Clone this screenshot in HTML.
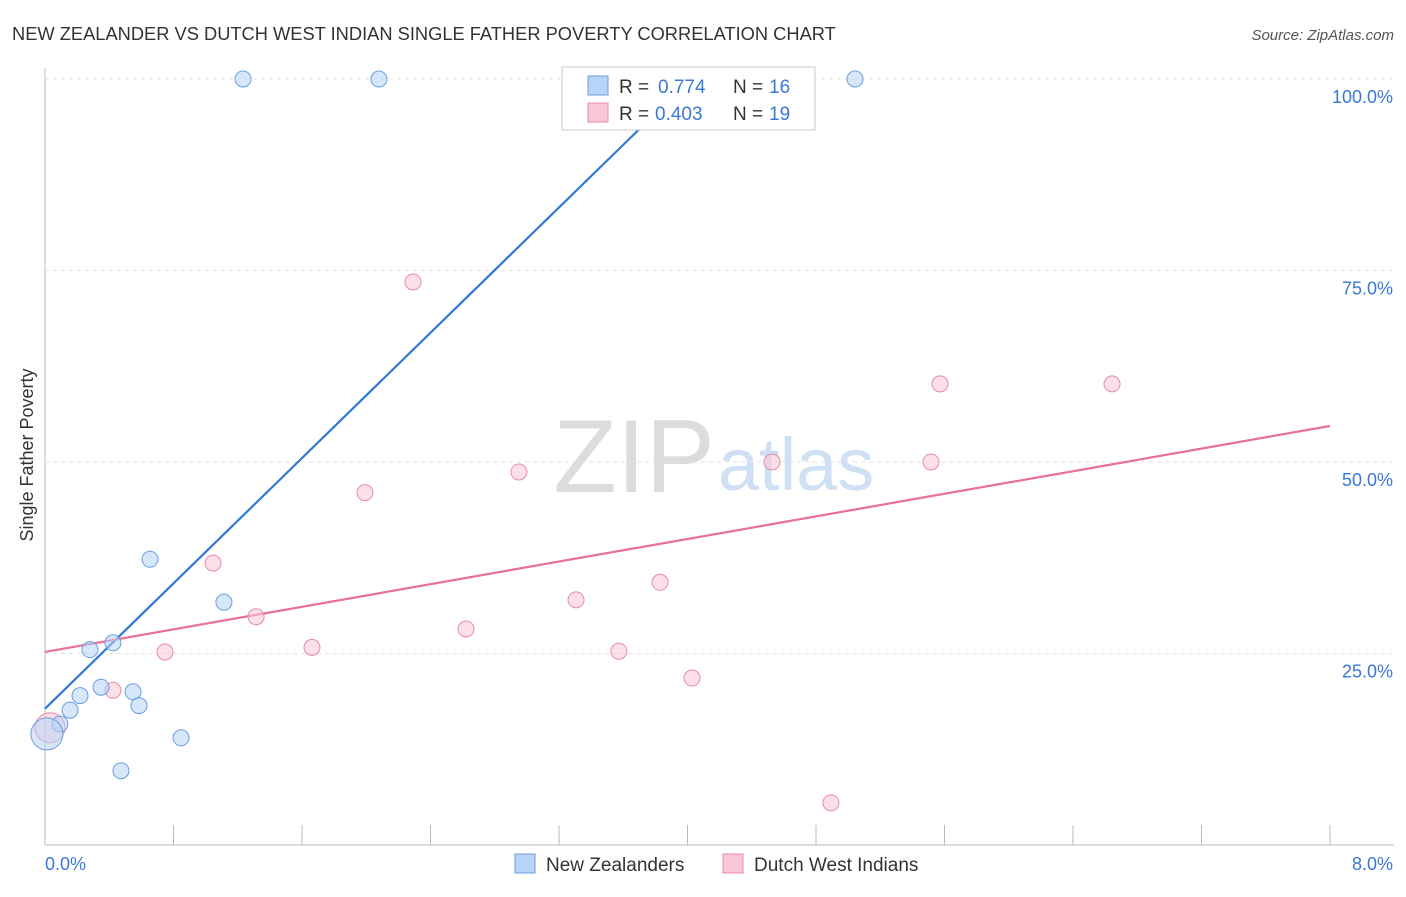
<!DOCTYPE html>
<html><head><meta charset="utf-8"><style>
body{margin:0;background:#fff;font-family:"Liberation Sans",sans-serif;}
svg text{font-family:"Liberation Sans",sans-serif;}
</style></head><body>
<svg id="c" width="1406" height="892">
<text x="12" y="40" font-size="18.3" fill="#333">NEW ZEALANDER VS DUTCH WEST INDIAN SINGLE FATHER POVERTY CORRELATION CHART</text>
<text x="1394" y="40" font-size="15" fill="#555" text-anchor="end" font-style="italic">Source: ZipAtlas.com</text>
<text x="33" y="455" font-size="18" fill="#333" text-anchor="middle" transform="rotate(-90 33 455)">Single Father Poverty</text>
<text x="715" y="492" font-size="104" fill="#dcdcdc" text-anchor="end" font-family="Liberation Serif">ZIP</text>
<text x="718" y="490" font-size="74" fill="#cfe0f5">atlas</text>
<g id="grid"></g><g id="lines"></g><g id="pts"></g>
<g>
<rect x="562" y="67" width="253" height="63" fill="#fff" stroke="#ccc"/>
<rect x="588" y="76" width="20" height="19" fill="#b7d3f5" stroke="#6a9ee0"/>
<rect x="588" y="103" width="20" height="19" fill="#f9c6d6" stroke="#e98aaa"/>
<text x="619" y="93" font-size="19" fill="#333">R =</text>
<text x="658" y="93" font-size="19" fill="#3a78d8">0.774</text>
<text x="733" y="93" font-size="19" fill="#333">N =</text>
<text x="769" y="93" font-size="19" fill="#3a78d8">16</text>
<text x="619" y="120" font-size="19" fill="#333">R =</text>
<text x="655" y="120" font-size="19" fill="#3a78d8">0.403</text>
<text x="733" y="120" font-size="19" fill="#333">N =</text>
<text x="769" y="120" font-size="19" fill="#3a78d8">19</text>
</g>
<g>
<rect x="515" y="854" width="20" height="19" fill="#b7d3f5" stroke="#6a9ee0"/>
<text x="546" y="871" font-size="19" fill="#333">New Zealanders</text>
<rect x="723" y="854" width="20" height="19" fill="#f9c6d6" stroke="#e98aaa"/>
<text x="754" y="871" font-size="19" fill="#333">Dutch West Indians</text>
</g>
</svg>
<script>
const blueX=[1.233,2.079,5.043,0.654,1.114,0.423,0.280,0.349,0.548,0.218,0.156,0.585,0.093,0.847,0.473,0.012];
const blueY=[100,100,100,37.3,31.7,26.4,25.5,20.6,20.0,19.5,17.6,18.2,15.8,14.0,9.7,14.5];
const pinkX=[2.291,1.992,2.951,1.046,1.314,1.662,0.747,0.423,2.621,3.306,3.573,3.829,4.028,4.526,4.893,5.572,5.516,6.643,0.031];
const pinkY=[73.5,46.0,48.7,36.8,29.8,25.8,25.2,20.2,28.2,32.0,25.3,34.3,21.8,50.0,5.5,60.2,50.0,60.2,15.3];
const yTicks=[25,50,75,100];
const blueLine=[[0,17.8],[4.02,100]];
const pinkLine=[[0,25.2],[8,54.7]];
const X=v=>45+v/8*1285, Y=v=>845-v/100*766;
const NS="http://www.w3.org/2000/svg";
function mk(p,t,a){const e=document.createElementNS(NS,t);for(const k in a)e.setAttribute(k,a[k]);document.getElementById(p).appendChild(e);return e;}
let ax=mk('grid','line',{x1:45,y1:68,x2:45,y2:845,stroke:'#bbb'});


let bx=mk('grid','line',{x1:45,y1:845,x2:1394,y2:845,stroke:'#bbb'});


for(let i=1;i<=10;i++){const t=mk('grid','line',{x1:X(i*0.8),y1:825,x2:X(i*0.8),y2:845,stroke:'#bbb'});

}
yTicks.forEach(v=>{const l=mk('grid','line',{x1:45,y1:Y(v),x2:1394,y2:Y(v),stroke:'#e2e2e2','stroke-dasharray':'4 4'});


const t=mk('grid','text',{x:1393,y:Y(v)+24,'font-size':18,fill:'#3a78d8','text-anchor':'end'});t.textContent=v.toFixed(1)+'%';

});
[['0.0%',45,'start'],['8.0%',1393,'end']].forEach(([s,x,a])=>{const t=mk('grid','text',{x:x,y:870,'font-size':18,fill:'#3a78d8','text-anchor':a});t.textContent=s;

});
const bl=mk('lines','line',{x1:X(blueLine[0][0]),y1:Y(blueLine[0][1]),x2:X(blueLine[1][0]),y2:Y(blueLine[1][1]),stroke:'#2f78d8','stroke-width':2.2});


const pl=mk('lines','line',{x1:X(pinkLine[0][0]),y1:Y(pinkLine[0][1]),x2:X(pinkLine[1][0]),y2:Y(pinkLine[1][1]),stroke:'#e8709a','stroke-width':2.2});


pinkX.forEach((x,i)=>{const c=mk('pts','circle',{cx:X(x),cy:Y(pinkY[i]),r:i==pinkX.length-1?15:8,fill:'rgba(249,198,214,0.55)',stroke:'#e98aaa'});

});
blueX.forEach((x,i)=>{const c=mk('pts','circle',{cx:X(x),cy:Y(blueY[i]),r:i==blueX.length-1?16:8,fill:'rgba(183,211,245,0.55)',stroke:'#6a9ee0'});

});
</script>
</body></html>
